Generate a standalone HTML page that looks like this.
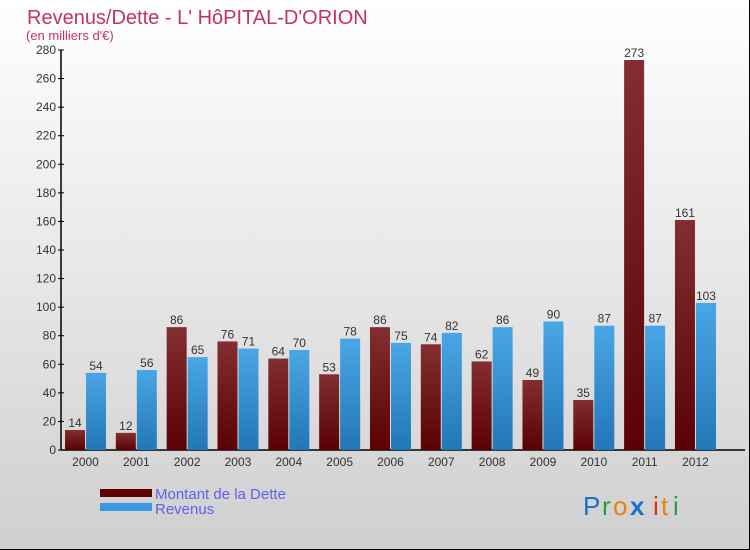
<!DOCTYPE html>
<html><head><meta charset="utf-8"><style>
body{margin:0}
#c{width:750px;height:550px;position:relative;overflow:hidden;background:linear-gradient(#ffffff,#cfcfcf);box-sizing:border-box;border:1px solid #000;border-top:none;border-left:none;font-family:"Liberation Sans",sans-serif}
svg{position:absolute;left:0;top:0}
</style></head><body>
<div id="c">
<svg id="s" width="750" height="550">
<defs>
<linearGradient id="gd" x1="0" y1="0" x2="0" y2="1"><stop offset="0" stop-color="#832e30"/><stop offset="1" stop-color="#5a0203"/></linearGradient>
<linearGradient id="gr" x1="0" y1="0" x2="0" y2="1"><stop offset="0" stop-color="#4aa6e6"/><stop offset="1" stop-color="#2277b6"/></linearGradient>
</defs>
<text x="27" y="24" font-size="20" fill="#c0336a">Revenus/Dette - L' HôPITAL-D'ORION</text>
<text x="26" y="40" font-size="13" fill="#c0336a">(en milliers d'€)</text>
<g id="g"></g>
<rect x="100" y="489" width="52" height="8" fill="#5e0203"/>
<rect x="100" y="503" width="52" height="8" fill="#3a98e0"/>
<text x="155" y="499" font-size="15" fill="#6060ee">Montant de la Dette</text>
<text x="155" y="514" font-size="15" fill="#6060ee">Revenus</text>
<g font-size="26" font-family="Liberation Sans,sans-serif">
<text x="583" y="515" fill="#1a70c8">P</text><text x="602" y="515" fill="#2a9a40">r</text><text x="613" y="515" fill="#f08010">o</text><text x="630" y="515" fill="#1a70c8" font-weight="bold">x</text><text x="653" y="515" fill="#e03020">i</text><text x="661" y="515" fill="#f08010">t</text><text x="673" y="515" fill="#2a9a40">i</text>
</g>
</svg>
</div>
<script>
const years=["2000","2001","2002","2003","2004","2005","2006","2007","2008","2009","2010","2011","2012"];
const dette=[14,12,86,76,64,53,86,74,62,49,35,273,161];
const revenus=[54,56,65,71,70,78,75,82,86,90,87,87,103];
const ticks=[0,20,40,60,80,100,120,140,160,180,200,220,240,260,280];
const NS="http://www.w3.org/2000/svg";
const g=document.getElementById('g');
const y0=450,yMax=280,ph=400,x0=65,step=50.83,bw=20;
function yS(v){return y0-v/yMax*ph;}
function xS(i){return x0+i*step;}
function mk(t,a,p){const e=document.createElementNS(NS,t);for(const k in a)e.setAttribute(k,a[k]);(p||g).appendChild(e);return e;}
mk('line',{x1:61,y1:50,x2:61,y2:450,stroke:'#000','stroke-width':1.5});
mk('line',{x1:61,y1:450,x2:745,y2:450,stroke:'#000','stroke-width':1.5});
ticks.forEach(t=>{
 const l=mk('line',{x1:58,x2:64,y1:yS(t),y2:yS(t),stroke:'#000'});
 
 
 const tx=mk('text',{x:56,y:yS(t)+4,'font-size':12,fill:'#333','text-anchor':'end'});
 tx.textContent=t;
 
 
});
years.forEach((yr,i)=>{
 const x=xS(i);
 const t=mk('text',{x:x+bw+0.5,y:466,'font-size':12,fill:'#333','text-anchor':'middle'});
 t.textContent=yr;
 
 
 const r1=mk('rect',{x:x,y:yS(dette[i]),width:bw,height:y0-yS(dette[i]),fill:'url(#gd)'});
 
 
 const r2=mk('rect',{x:x+bw+1,y:yS(revenus[i]),width:bw,height:y0-yS(revenus[i]),fill:'url(#gr)'});
 
 
 const l1=mk('text',{x:x+bw/2,y:yS(dette[i])-3,'font-size':12,fill:'#333','text-anchor':'middle'});
 l1.textContent=dette[i];
 
 
 const l2=mk('text',{x:x+bw*1.5+1,y:yS(revenus[i])-3,'font-size':12,fill:'#333','text-anchor':'middle'});
 l2.textContent=revenus[i];
 
 
});
</script>
</body></html>
